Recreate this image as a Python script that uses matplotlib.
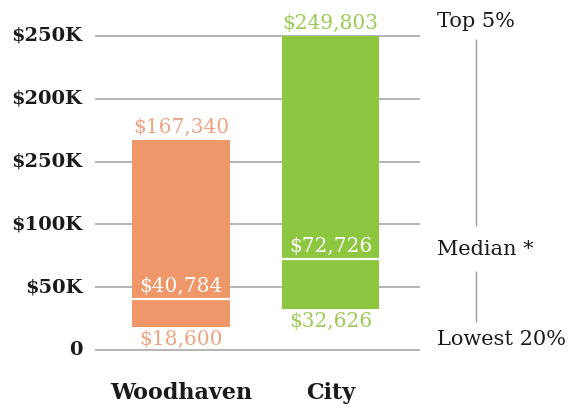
import matplotlib.pyplot as plt

# incomes
places = ['Woodhaven', 'City']
lowest20 = [18600, 32626]
median = [40784, 72726]
top5 = [167340, 249803]
bar_colors = ['#F0976A', '#8DC63F']
label_colors = ['#EDA483', '#9CCB55']
ticks = [0, 50000, 100000, 150000, 200000, 250000]
tick_labels = ['0', '$50K', '$100K', '$250K', '$200K', '$250K']

plt.rcParams['font.family'] = ['DejaVu Serif']

fig = plt.figure(figsize=(5.7, 4.07), dpi=100)
ax = fig.add_axes([0, 0, 1, 1])
ax.set_xlim(-1.211, 2.602)
ax.set_ylim(-45382, 278662)
ax.axis('off')

# gridlines + tick labels
ax.hlines(ticks, -0.575, 1.599, color='#a0a0a0', lw=1.1, zorder=1)
for t, lab in zip(ticks, tick_labels):
    ax.text(-0.66, t, lab, ha='right', va='center', fontsize=14,
            fontweight='semibold', color='#1a1a1a')

x = [0, 1]
w = 0.65
for i in range(len(places)):
    ax.bar(x[i], top5[i] - lowest20[i], bottom=lowest20[i], width=w,
           color=bar_colors[i], zorder=2)
    ax.hlines(median[i], x[i] - w / 2, x[i] + w / 2, color='white', lw=1.6, zorder=3)
    ax.text(x[i], top5[i] + 2500, '${:,}'.format(top5[i]), ha='center', va='bottom',
            fontsize=14.5, color=label_colors[i])
    ax.text(x[i], median[i] + 2500, '${:,}'.format(median[i]), ha='center', va='bottom',
            fontsize=14.5, color='white', zorder=4)
    ax.text(x[i], lowest20[i] - 2500, '${:,}'.format(lowest20[i]), ha='center', va='top',
            fontsize=14.5, color=label_colors[i])
    ax.text(x[i], -34000, places[i], ha='center', va='center', fontsize=16,
            fontweight='bold', color='#1a1a1a')

# legend on the right
ax.text(1.712, top5[1] + 12000, 'Top 5%', ha='left', va='center', fontsize=15, color='#1a1a1a')
ax.text(1.712, 80000, 'Median *', ha='left', va='center', fontsize=15, color='#1a1a1a')
ax.text(1.712, 8000, 'Lowest 20%', ha='left', va='center', fontsize=15, color='#1a1a1a')
ax.vlines(1.973, 99000, 248000, color='#a0a0a0', lw=1)
ax.vlines(1.973, 22000, 63000, color='#a0a0a0', lw=1)

fig.savefig('out.png', dpi=100, facecolor='white')
